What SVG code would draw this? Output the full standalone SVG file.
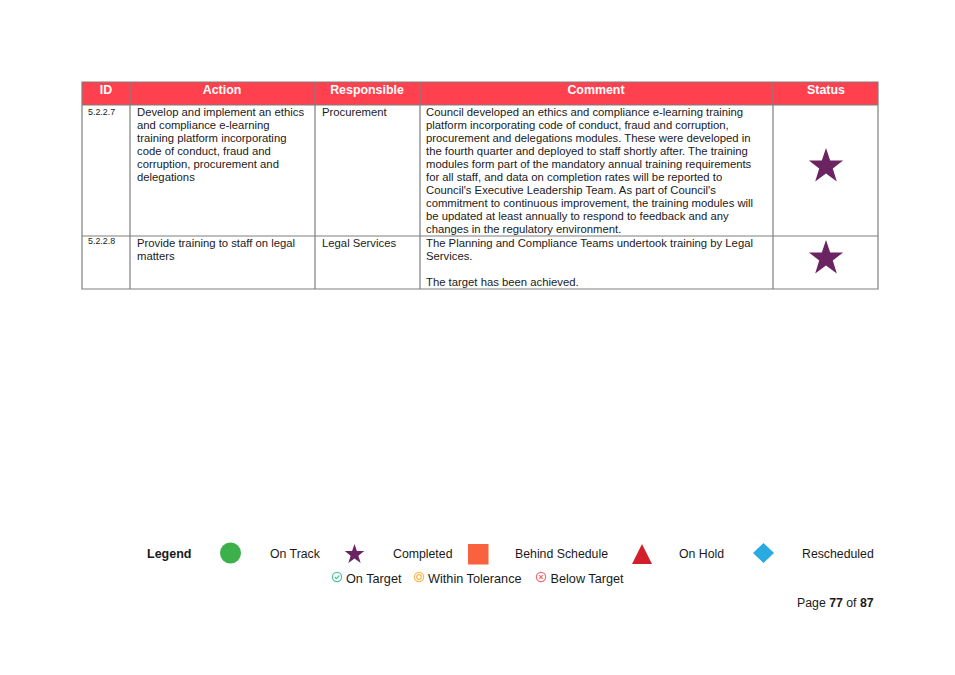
<svg xmlns="http://www.w3.org/2000/svg" width="955" height="675" viewBox="0 0 955 675">
<style>
text{font-family:"Liberation Sans",Arial,sans-serif;fill:#1a1a1a;font-size:11.3px}
.h{font-size:12.4px;font-weight:bold;fill:#fff;text-anchor:middle}
.id{font-size:8.9px}
.l{font-size:12.3px}
.t{font-size:12.7px}
.grid{stroke:#7f7f7f;stroke-width:1.2;fill:none}
.star{fill:#6b2361}
</style>
<defs><polygon id="star" points="0,-18 4.2,-5.600 17.100,-5.600 6.800,2.600 10.800,15.400 0,7.500 -10.800,15.400 -6.800,2.600 -17.100,-5.600 -4.200,-5.600"/></defs>
<rect width="955" height="675" fill="#fff"/>
<g id="table">
<rect x="82" y="82" width="796" height="23" fill="#ff404e"/>
<path class="grid" d="M82 82H878V289H82ZM82 105H878M82 236H878M130 82V289M315 82V289M420 82V289M773 82V289"/>
<text class="h" x="106" y="94">ID</text>
<text class="h" x="222" y="94">Action</text>
<text class="h" x="367" y="94">Responsible</text>
<text class="h" x="596" y="94">Comment</text>
<text class="h" x="826" y="94">Status</text>
<text class="id" x="88" y="115">5.2.2.7</text>
<text x="137" y="116">Develop and implement an ethics</text>
<text x="137" y="129">and compliance e-learning</text>
<text x="137" y="142">training platform incorporating</text>
<text x="137" y="155">code of conduct, fraud and</text>
<text x="137" y="168">corruption, procurement and</text>
<text x="137" y="181">delegations</text>
<text x="322" y="116">Procurement</text>
<text x="426" y="116">Council developed an ethics and compliance e-learning training</text>
<text x="426" y="129">platform incorporating code of conduct, fraud and corruption,</text>
<text x="426" y="142">procurement and delegations modules. These were developed in</text>
<text x="426" y="155">the fourth quarter and deployed to staff shortly after. The training</text>
<text x="426" y="168">modules form part of the mandatory annual training requirements</text>
<text x="426" y="181">for all staff, and data on completion rates will be reported to</text>
<text x="426" y="194">Council's Executive Leadership Team. As part of Council's</text>
<text x="426" y="207">commitment to continuous improvement, the training modules will</text>
<text x="426" y="220">be updated at least annually to respond to feedback and any</text>
<text x="426" y="233">changes in the regulatory environment.</text>
<use href="#star" class="star" x="826" y="166"/>
<text class="id" x="88" y="244">5.2.2.8</text>
<text x="137" y="247">Provide training to staff on legal</text>
<text x="137" y="260">matters</text>
<text x="322" y="247">Legal Services</text>
<text x="426" y="247">The Planning and Compliance Teams undertook training by Legal</text>
<text x="426" y="260">Services.</text>
<text x="426" y="286">The target has been achieved.</text>
<use href="#star" class="star" x="826" y="258"/>
</g>
<g id="legend">
<text class="l" x="147" y="558" font-weight="bold" style="font-size:12.500px">Legend</text>
<circle cx="230.500" cy="553" r="10.500" fill="#3cb04b"/>
<text class="l" x="270" y="558">On Track</text>
<use href="#star" class="star" transform="translate(354.500 554.300) scale(.57)"/>
<text class="l" x="393" y="558">Completed</text>
<rect x="468" y="544" width="20.500" height="20.500" fill="#f9623f"/>
<text class="l" x="515" y="558">Behind Schedule</text>
<polygon points="642,544 652,564 632,564" fill="#d2202a"/>
<text class="l" x="679" y="558">On Hold</text>
<polygon points="763.500,543 774,553 763.500,563 753,553" fill="#29abe2"/>
<text class="l" x="802" y="558">Rescheduled</text>
<g fill="none" stroke-width="1.200">
<circle cx="337" cy="577" r="4.600" stroke="#4cc2a0"/>
<path d="M334.800 577l1.600 1.700l3-3.200" stroke="#4cc2a0"/>
<circle cx="419" cy="577" r="4.600" stroke="#fbb84d"/>
<circle cx="419" cy="577" r="2.300" stroke="#fbb84d"/>
<circle cx="541" cy="577" r="4.600" stroke="#ee6a72"/>
<path d="M539.200 575.200l3.600 3.600m0-3.600l-3.600 3.600" stroke="#ee6a72"/>
</g>
<text class="t" x="346" y="582.500">On Target</text>
<text class="t" x="428" y="582.500">Within Tolerance</text>
<text class="t" x="550.500" y="582.500">Below Target</text>
</g>
<g id="footer">
<text class="l" x="797" y="607">Page <tspan font-weight="bold">77</tspan> of <tspan font-weight="bold">87</tspan></text>
</g>
</svg>
